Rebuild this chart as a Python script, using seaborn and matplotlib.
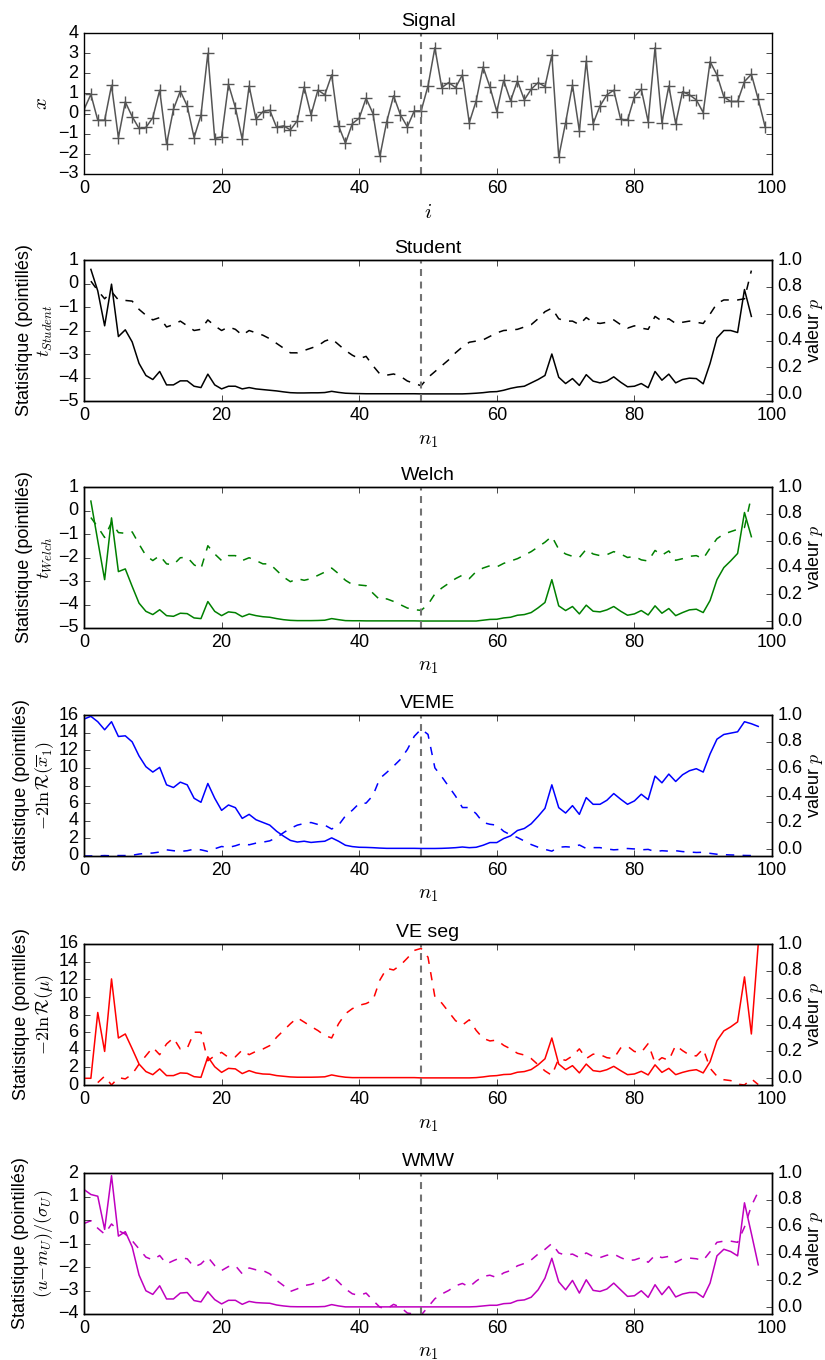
import numpy as np
import pandas as pd
import matplotlib
matplotlib.use("Agg")
import matplotlib.pyplot as plt
import seaborn as sns

# ---------------- data ----------------
signal_i = list(range(100))
signal_x = [0.2, 0.95, -0.33, -0.33, 1.4, -1.19, 0.58, -0.15, -0.74, -0.69,
            -0.2, 1.16, -1.52, 0.21, 1.12, 0.38, -1.19, -0.08, 2.99, -1.24,
            -1.16, 1.45, 0.3, -1.27, 1.37, -0.28, 0.1, 0.17, -0.69, -0.61,
            -0.81, -0.36, 1.32, -0.07, 1.17, 0.93, 1.92, -0.61, -1.47, -0.5,
            -0.23, 0.76, 0.0, -2.13, -0.4, 0.88, -0.07, -0.66, 0.13, 0.13,
            1.37, 3.27, 1.29, 1.54, 1.29, 1.92, -0.45, 0.63, 2.31, 1.32,
            0.1, 1.65, 0.63, 1.62, 0.68, 1.21, 1.54, 1.34, 2.91, -2.15,
            -0.45, 1.42, -0.86, 2.61, -0.5, 0.38, 0.93, 1.16, -0.28, -0.33,
            0.83, 1.21, -0.4, 3.27, -0.45, 1.37, -0.5, 1.09, 0.93, 0.68,
            0.05, 2.58, 1.92, 0.83, 0.6, 0.6, 1.59, 1.95, 0.71, -0.66]
change_point = 49

n1_short = list(range(1, 98))   # Student, Welch
n1_long = list(range(0, 99))    # VEME, VE seg, WMW

student_p = [0.93, 0.77, 0.51, 0.82, 0.43, 0.48, 0.39, 0.23, 0.14, 0.11,
             0.17, 0.07, 0.07, 0.10, 0.10, 0.06, 0.05, 0.15, 0.07, 0.04,
             0.06, 0.06, 0.04, 0.05, 0.04, 0.035, 0.03, 0.025, 0.018, 0.012,
             0.01, 0.01, 0.011, 0.011, 0.013, 0.022, 0.014, 0.008, 0.006, 0.005,
             0.004, 0.004, 0.004, 0.004, 0.004, 0.004, 0.004, 0.004, 0.003, 0.003,
             0.003, 0.003, 0.003, 0.003, 0.003, 0.005, 0.008, 0.012, 0.018, 0.02,
             0.03, 0.044, 0.054, 0.06, 0.085, 0.11, 0.14, 0.30, 0.127, 0.08,
             0.117, 0.066, 0.146, 0.098, 0.085, 0.098, 0.13, 0.09, 0.056, 0.06,
             0.08, 0.049, 0.17, 0.105, 0.15, 0.085, 0.11, 0.12, 0.117, 0.078,
             0.23, 0.42, 0.475, 0.475, 0.46, 0.78, 0.58]
student_t = [0.1, -0.3, -0.65, -0.35, -0.7, -0.72, -0.75, -1.1, -1.35, -1.55,
             -1.45, -1.85, -1.75, -1.6, -1.8, -2.0, -1.95, -1.55, -1.8, -2.0,
             -1.85, -1.95, -2.2, -2.0, -2.1, -2.2, -2.35, -2.55, -2.75, -2.95,
             -2.95, -2.85, -2.75, -2.65, -2.45, -2.35, -2.6, -2.85, -3.05, -3.2,
             -3.1, -3.5, -3.85, -3.9, -3.85, -3.95, -4.15, -4.25, -4.35, -4.0,
             -3.75, -3.5, -3.25, -2.95, -2.7, -2.5, -2.45, -2.4, -2.25, -2.1,
             -2.0, -1.98, -1.95, -1.85, -1.75, -1.5, -1.2, -1.05, -1.5, -1.6,
             -1.6, -1.75, -1.45, -1.65, -1.7, -1.65, -1.55, -1.75, -1.9, -1.8,
             -1.9, -1.95, -1.4, -1.6, -1.5, -1.7, -1.65, -1.6, -1.65, -1.7,
             -1.3, -0.85, -0.7, -0.7, -0.7, -0.65, 0.55]

welch_p = [0.895, 0.60, 0.31, 0.77, 0.37, 0.39, 0.26, 0.135, 0.074, 0.05,
           0.086, 0.042, 0.037, 0.06, 0.057, 0.025, 0.02, 0.147, 0.074, 0.042,
           0.07, 0.064, 0.034, 0.054, 0.042, 0.034, 0.03, 0.02, 0.012, 0.007,
           0.005, 0.005, 0.005, 0.006, 0.008, 0.02, 0.012, 0.005, 0.004, 0.004,
           0.003, 0.003, 0.003, 0.003, 0.003, 0.003, 0.003, 0.003, 0.002, 0.002,
           0.002, 0.002, 0.002, 0.002, 0.002, 0.002, 0.002, 0.008, 0.014, 0.015,
           0.025, 0.03, 0.045, 0.05, 0.065, 0.1, 0.14, 0.31, 0.115, 0.08,
           0.11, 0.055, 0.12, 0.075, 0.07, 0.085, 0.11, 0.075, 0.045, 0.055,
           0.08, 0.047, 0.115, 0.06, 0.095, 0.042, 0.065, 0.085, 0.09, 0.065,
           0.155, 0.31, 0.4, 0.45, 0.505, 0.81, 0.63]
welch_t = [-0.3, -0.7, -1.15, -0.5, -0.94, -0.97, -0.91, -1.43, -1.92, -2.13,
           -1.92, -2.27, -2.31, -2.01, -1.99, -2.31, -2.48, -1.5, -1.85, -2.13,
           -1.92, -1.92, -2.13, -2.01, -2.13, -2.27, -2.27, -2.55, -2.83, -3.03,
           -2.9, -2.97, -2.9, -2.76, -2.62, -2.45, -2.69, -2.97, -3.15, -3.17,
           -3.2, -3.52, -3.8, -3.76, -3.87, -4.01, -4.15, -4.22, -4.25, -4.0,
           -3.55, -3.3, -3.1, -2.9, -2.75, -2.9, -2.6, -2.45, -2.35, -2.4,
           -2.25, -2.15, -2.05, -1.9, -1.75, -1.55, -1.35, -1.1, -1.65, -1.85,
           -1.95, -2.0, -1.65, -1.85, -1.92, -1.88, -1.75, -1.85, -2.0, -1.95,
           -2.1, -2.15, -1.7, -1.9, -1.72, -2.12, -2.05, -1.95, -1.92, -2.05,
           -1.6, -1.2, -1.0, -0.9, -0.8, -0.72, 0.6]

veme_p = [0.97, 0.99, 0.95, 0.89, 0.95, 0.84, 0.845, 0.80, 0.695, 0.615,
          0.575, 0.61, 0.48, 0.46, 0.50, 0.48, 0.38, 0.35, 0.49, 0.38,
          0.29, 0.33, 0.31, 0.23, 0.26, 0.22, 0.20, 0.18, 0.134, 0.098,
          0.066, 0.054, 0.06, 0.051, 0.056, 0.06, 0.085, 0.06, 0.03, 0.02,
          0.015, 0.014, 0.012, 0.009, 0.007, 0.007, 0.007, 0.007, 0.007, 0.006,
          0.006, 0.006, 0.007, 0.009, 0.012, 0.017, 0.012, 0.015, 0.03, 0.05,
          0.05, 0.08, 0.1, 0.14, 0.155, 0.19, 0.245, 0.305, 0.48, 0.31,
          0.27, 0.325, 0.26, 0.385, 0.335, 0.335, 0.365, 0.415, 0.373, 0.335,
          0.36, 0.41, 0.37, 0.545, 0.495, 0.56, 0.505, 0.555, 0.585, 0.6,
          0.575, 0.71, 0.82, 0.855, 0.865, 0.875, 0.95, 0.935, 0.915]
veme_stat = [0.0, 0.0, 0.02, 0.05, 0.02, 0.05, 0.05, 0.08, 0.22, 0.3,
             0.34, 0.45, 0.7, 0.6, 0.52, 0.6, 0.78, 0.7, 0.52, 0.82,
             1.08, 0.97, 1.16, 1.42, 1.27, 1.46, 1.57, 1.72, 2.09, 2.65,
             3.13, 3.5, 3.69, 3.8, 3.58, 3.5, 3.06, 3.5, 4.55, 5.19,
             5.97, 6.0, 6.87, 8.8, 9.48, 10.2, 10.97, 12.09, 13.58, 14.4,
             13.8, 10.0, 9.0, 7.9, 6.8, 5.5, 5.5, 4.8, 3.8, 3.6,
             3.5, 2.8, 2.4, 2.1, 1.7, 1.3, 1.0, 0.75, 0.55, 1.0,
             1.05, 1.0, 1.25, 0.85, 0.95, 0.95, 0.8, 0.7, 0.75, 0.85,
             0.8, 0.7, 0.75, 0.5, 0.6, 0.55, 0.6, 0.5, 0.45, 0.4,
             0.42, 0.3, 0.2, 0.15, 0.12, 0.1, 0.06, 0.05, 0.05]

veseg_p = [0.0, 0.0, 0.49, 0.2, 0.74, 0.3, 0.33, 0.22, 0.106, 0.05,
           0.027, 0.07, 0.02, 0.02, 0.04, 0.037, 0.012, 0.007, 0.16, 0.086,
           0.044, 0.074, 0.07, 0.035, 0.057, 0.04, 0.032, 0.03, 0.02, 0.015,
           0.01, 0.008, 0.008, 0.008, 0.009, 0.011, 0.025, 0.015, 0.008, 0.005,
           0.005, 0.005, 0.005, 0.005, 0.005, 0.005, 0.005, 0.005, 0.005, 0.003,
           0.003, 0.003, 0.003, 0.003, 0.003, 0.003, 0.003, 0.005, 0.01, 0.017,
           0.02, 0.028, 0.03, 0.045, 0.05, 0.065, 0.1, 0.145, 0.30, 0.106,
           0.064, 0.094, 0.04, 0.106, 0.057, 0.05, 0.064, 0.089, 0.057, 0.027,
           0.032, 0.052, 0.025, 0.1, 0.044, 0.074, 0.027, 0.044, 0.057, 0.064,
           0.04, 0.123, 0.28, 0.353, 0.383, 0.42, 0.755, 0.33, 1.0]
veseg_stat = [np.nan, np.nan, 0.27, 1.0, 0.0, 0.84, 0.69, 1.22, 2.37, 3.32,
              4.27, 3.44, 4.66, 5.34, 4.08, 4.16, 5.99, 5.99, 2.75, 3.32,
              3.7, 3.13, 3.2, 3.97, 3.44, 3.82, 4.08, 4.47, 5.42, 6.18,
              6.95, 7.63, 7.14, 6.64, 6.18, 5.61, 5.34, 6.95, 8.09, 8.66,
              9.05, 9.24, 9.62, 11.9, 13.24, 13.05, 13.6, 14.4, 15.27, 15.5,
              14.5, 10.0, 9.3, 8.3, 7.3, 6.8, 7.4, 6.2, 5.3, 5.0,
              5.1, 4.5, 4.1, 3.6, 3.4, 3.0, 2.3, 1.6, 1.1, 3.0,
              2.8, 3.3, 4.1, 3.0, 3.5, 3.45, 3.1, 3.0, 4.2, 4.4,
              3.8, 3.7, 4.7, 2.5, 3.1, 2.8, 4.5, 3.9, 3.4, 3.3,
              4.1, 1.9, 1.0, 0.6, 0.5, 0.1, 0.0, 0.7, 0.05]

wmw_p = [0.877, 0.84, 0.827, 0.58, 0.98, 0.53, 0.563, 0.45, 0.24, 0.123,
         0.096, 0.16, 0.062, 0.062, 0.106, 0.11, 0.05, 0.04, 0.116, 0.057,
         0.025, 0.052, 0.052, 0.022, 0.044, 0.035, 0.032, 0.03, 0.017, 0.01,
         0.005, 0.004, 0.004, 0.004, 0.004, 0.006, 0.02, 0.01, 0.003, 0.003,
         0.003, 0.003, 0.003, 0.003, 0.003, 0.003, 0.003, 0.003, 0.003, 0.003,
         0.003, 0.003, 0.003, 0.003, 0.003, 0.003, 0.003, 0.005, 0.01, 0.015,
         0.015, 0.027, 0.03, 0.05, 0.055, 0.075, 0.13, 0.217, 0.365, 0.19,
         0.13, 0.2, 0.106, 0.205, 0.126, 0.118, 0.136, 0.18, 0.13, 0.081,
         0.086, 0.123, 0.074, 0.168, 0.094, 0.155, 0.077, 0.099, 0.11, 0.11,
         0.074, 0.18, 0.383, 0.432, 0.415, 0.383, 0.778, 0.55, 0.316]
wmw_stat = [-0.15, -0.03, -0.35, -0.6, -0.17, -0.45, -0.6, -0.88, -1.23, -1.58,
            -1.7, -1.51, -1.87, -1.73, -1.61, -1.65, -2.0, -1.87, -1.58, -1.94,
            -2.15, -1.98, -1.94, -2.29, -2.04, -2.12, -2.15, -2.29, -2.57, -2.79,
            -3.04, -2.93, -2.79, -2.74, -2.64, -2.55, -2.36, -2.64, -2.93, -3.14,
            -3.21, -3.11, -3.42, -3.71, -3.78, -3.59, -3.71, -3.96, -4.0, -4.05,
            -3.7, -3.35, -3.15, -3.0, -2.8, -2.7, -2.85, -2.6, -2.4, -2.35,
            -2.45, -2.25, -2.15, -1.95, -1.85, -1.7, -1.45, -1.25, -1.0, -1.4,
            -1.5, -1.45, -1.6, -1.4, -1.55, -1.6, -1.5, -1.45, -1.6, -1.72,
            -1.7, -1.6, -1.8, -1.5, -1.6, -1.55, -1.8, -1.65, -1.62, -1.65,
            -1.72, -1.35, -0.95, -0.9, -0.9, -0.95, -0.3, 0.6, 1.2]

panels = [
    ("Student", r"$t_{Student}$", "black", n1_short, student_t, student_p, (-5, 1), list(range(-5, 2))),
    ("Welch", r"$t_{Welch}$", "green", n1_short, welch_t, welch_p, (-5, 1), list(range(-5, 2))),
    ("VEME", r"$-2\ln\mathcal{R}(\overline{x}_1)$", "blue", n1_long, veme_stat, veme_p, (0, 16), list(range(0, 17, 2))),
    ("VE seg", r"$-2\ln\mathcal{R}(\mu)$", "red", n1_long, veseg_stat, veseg_p, (0, 16), list(range(0, 17, 2))),
    ("WMW", r"$(u\!-\!m_U)/(\sigma_U)$", "m", n1_long, wmw_stat, wmw_p, (-4, 2), list(range(-4, 3))),
]

# ---------------- style ----------------
plt.style.use("classic")
plt.rcParams["font.family"] = ["Liberation Sans", "DejaVu Sans"]
plt.rcParams["mathtext.fontset"] = "cm"
plt.rcParams["axes.unicode_minus"] = True
plt.rcParams["font.size"] = 12
plt.rcParams["xtick.labelsize"] = 13
plt.rcParams["ytick.labelsize"] = 13
plt.rcParams["axes.labelsize"] = 13
plt.rcParams["axes.titlesize"] = 14

W, H = 825, 1360
fig = plt.figure(figsize=(W / 100, H / 100), dpi=100, facecolor="white")
left = 84 / W
width = (772 - 84) / W
ax_h = 141
tops = [33, 260, 487, 715, 944, 1173]


def make_ax(top):
    return fig.add_axes([left, 1 - (top + ax_h) / H, width, ax_h / H])


vline_kw = dict(color="0.45", linestyle="--", linewidth=1.5, dashes=(5, 4))

# Signal panel
ax = make_ax(tops[0])
sig_df = pd.DataFrame({"i": signal_i, "x": signal_x})
sns.lineplot(data=sig_df, x="i", y="x", ax=ax, color="#555555", linewidth=1.1,
             marker="+", markersize=9, markeredgecolor="#555555", markeredgewidth=1.0,
             estimator=None, sort=False)
ax.axvline(change_point, **vline_kw)
ax.set_xlim(0, 100)
ax.set_ylim(-3, 4)
ax.set_xticks(range(0, 101, 20))
ax.set_yticks(range(-3, 5))
ax.set_title("Signal")
ax.set_xlabel(r"$i$", fontsize=15)
ax.set_ylabel(r"$x$", fontsize=15)

for (title, stat_label, color, n1, stat, pval, ylim, yticks), top in zip(panels, tops[1:]):
    ax = make_ax(top)
    df = pd.DataFrame({"n1": n1, "stat": stat, "p": pval})
    sns.lineplot(data=df, x="n1", y="stat", ax=ax, color=color, linewidth=1.1,
                 linestyle="--", dashes=(6, 6), estimator=None, sort=False)
    ax.set_xlim(0, 100)
    ax.set_ylim(*ylim)
    ax.set_yticks(yticks)
    ax.set_xticks(range(0, 101, 20))
    ax.set_title(title)
    ax.set_xlabel(r"$n_1$", fontsize=15)
    ax.set_ylabel("Statistique (pointillés)\n" + stat_label, labelpad=2)
    ax2 = ax.twinx()
    sns.lineplot(data=df, x="n1", y="p", ax=ax2, color=color, linewidth=1.1,
                 estimator=None, sort=False)
    ax2.axvline(change_point, **vline_kw)
    ax2.set_ylim(-0.05, 1.0)
    ax2.set_yticks([0.0, 0.2, 0.4, 0.6, 0.8, 1.0])
    ax2.set_yticklabels(["0.0", "0.2", "0.4", "0.6", "0.8", "1.0"])
    ax2.set_xlim(0, 100)
    ax2.set_ylabel(r"valeur $p$", labelpad=1)

fig.savefig("out.png", dpi=100, facecolor="white")
